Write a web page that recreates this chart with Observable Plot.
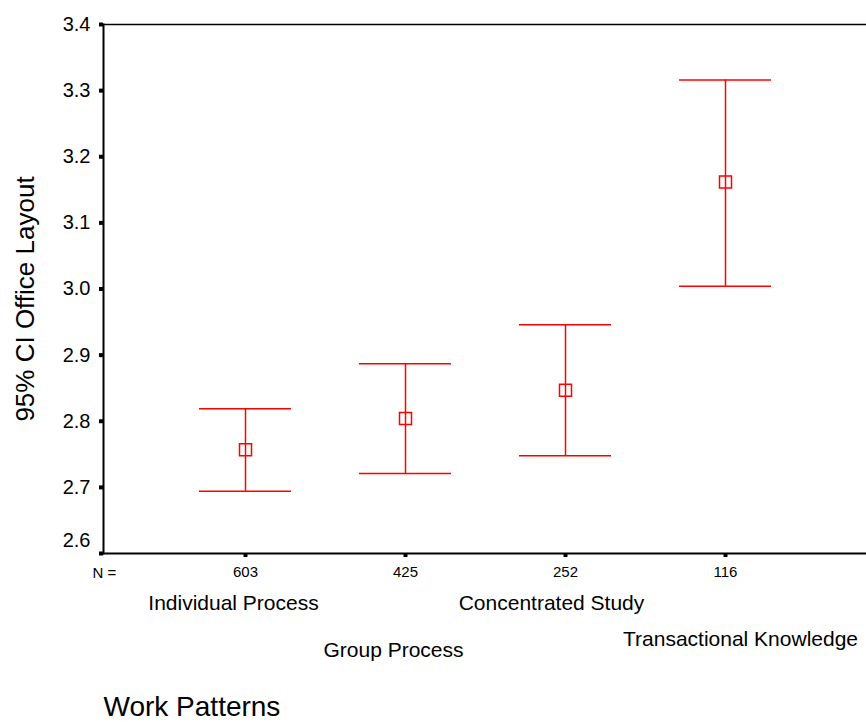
<!DOCTYPE html>
<html>
<head>
<meta charset="utf-8">
<script src="https://cdn.jsdelivr.net/npm/d3@7"></script>
<script src="https://cdn.jsdelivr.net/npm/@observablehq/plot@0.6"></script>
<style>
  html, body { margin: 0; padding: 0; background: #fff; }
  #chart svg { display: block; }
</style>
</head>
<body>
<div id="chart"></div>
<script>
// ---- data ----
const categories = ["Individual Process", "Group Process", "Concentrated Study", "Transactional Knowledge"];
const counts = [603, 425, 252, 116];
const means = [2.757, 2.804, 2.847, 3.162];
const lower = [2.694, 2.721, 2.748, 3.004];
const upper = [2.819, 2.887, 2.946, 3.316];
const yTicks = [2.6, 2.7, 2.8, 2.9, 3.0, 3.1, 3.2, 3.3, 3.4];
const yTitle = "95% CI Office Layout";
const xTitle = "Work Patterns";
const nLabel = "N =";

const data = categories.map((c, i) => ({cat: c, n: counts[i], mean: means[i], lower: lower[i], upper: upper[i]}));
const nOf = new Map(data.map(d => [d.cat, d.n]));

const RED = "#ff0000";
const FONT = "'Liberation Sans', Arial, Helvetica, sans-serif";
// per-label placement of category names (layout only)
const catDy = [56, 103, 56, 92];
const catDx = [-12, -12, -14, 15];

const chart = Plot.plot({
  width: 866,
  height: 722,
  marginLeft: 103,
  marginRight: 0,
  marginTop: 24,
  marginBottom: 169,
  style: {fontFamily: FONT, background: "#fff", color: "#000"},
  x: {type: "band", domain: categories, paddingInner: 0.4274, paddingOuter: 0.5913},
  y: {domain: [2.6, 3.4]},
  marks: [
    // frame edges
    Plot.frame({anchor: "top", stroke: "#000", strokeWidth: 1.5}),
    Plot.frame({anchor: "left", stroke: "#000", strokeWidth: 2}),
    Plot.frame({anchor: "bottom", stroke: "#000", strokeWidth: 2}),
    // y axis: ticks 2.7..3.4 with labels
    Plot.axisY(yTicks.filter(t => t > 2.6), {
      tickSize: 4, strokeWidth: 4, tickPadding: 9, fontSize: 20,
      tickFormat: d3.format(".1f"), label: null
    }),
    // y axis: 2.6 tick mark, label raised above the x axis
    Plot.axisY(yTicks.filter(t => t === 2.6), {
      tickSize: 4, strokeWidth: 4, tickPadding: 9, fontSize: 20,
      tickFormat: d3.format(".1f"), label: null, text: null
    }),
    Plot.text(yTicks.filter(t => t === 2.6), {
      y: d => d, frameAnchor: "left", dx: -13, dy: -13, textAnchor: "end",
      text: d3.format(".1f"), fontSize: 20, fill: "#000"
    }),
    // x axis: N counts as tick labels
    Plot.axisX({
      tickSize: 4, strokeWidth: 4, tickPadding: 9, fontSize: 15,
      tickFormat: c => String(nOf.get(c)), label: null
    }),
    // error bars
    Plot.ruleX(data, {x: "cat", y1: "lower", y2: "upper", stroke: RED, strokeWidth: 1.5}),
    Plot.tickY(data, {x: "cat", y: "upper", stroke: RED, strokeWidth: 1.5}),
    Plot.tickY(data, {x: "cat", y: "lower", stroke: RED, strokeWidth: 1.5}),
    Plot.dot(data, {x: "cat", y: "mean", symbol: "square", r: 6.77, stroke: RED, fill: "none", strokeWidth: 1.5}),
    // category names below N labels
    ...data.map((d, i) => Plot.text([d], {
      x: "cat", text: "cat", frameAnchor: "bottom", lineAnchor: "bottom",
      dy: catDy[i], dx: catDx[i], fontSize: 21, fill: "#000"
    })),
    // "N =" label
    Plot.text([nLabel], {
      frameAnchor: "bottom-left", lineAnchor: "bottom", textAnchor: "start",
      dx: -11, dy: 24, fontSize: 15, fill: "#000"
    }),
    // axis titles
    Plot.text([xTitle], {
      frameAnchor: "bottom-left", lineAnchor: "bottom", textAnchor: "start",
      dx: 0, dy: 162, fontSize: 28, fill: "#000"
    }),
    Plot.text([yTitle], {
      frameAnchor: "left", lineAnchor: "bottom", textAnchor: "middle", rotate: -90,
      dx: -70, dy: 10, fontSize: 26, fill: "#000"
    })
  ]
});

document.getElementById("chart").appendChild(chart);
</script>
</body>
</html>
